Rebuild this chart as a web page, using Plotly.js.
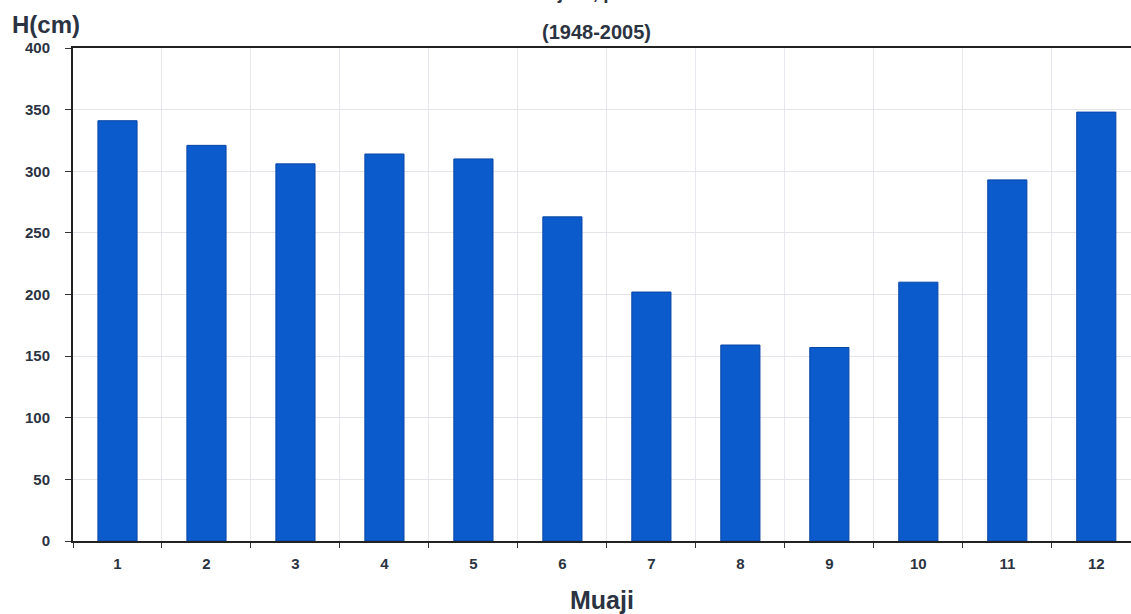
<!DOCTYPE html>
<html>
<head>
<meta charset="utf-8">
<script src="https://cdn.plot.ly/plotly-3.0.1.min.js"></script>
<style>
html,body{margin:0;padding:0;background:#fff;}
#chart{width:1131px;height:614px;}
</style>
</head>
<body>
<div id="chart"></div>
<script>
var months = ["1","2","3","4","5","6","7","8","9","10","11","12"];
var levels = [341, 321, 306, 314, 310, 263, 202, 159, 157, 210, 293, 348];
var yTicks = [0, 50, 100, 150, 200, 250, 300, 350, 400];

var fontFam = "Liberation Sans, Arial, sans-serif";
var textCol = "#2b3342";

var trace = {
  type: "bar",
  x: months,
  y: levels,
  width: 0.44,
  marker: {color: "#0b5bcc", line: {color: "#0846a6", width: 1}},
  hoverinfo: "x+y"
};

var layout = {
  width: 1131,
  height: 614,
  margin: {l: 73, r: 0, t: 48, b: 73},
  paper_bgcolor: "#ffffff",
  plot_bgcolor: "#ffffff",
  showlegend: false,
  xaxis: {
    type: "category",
    range: [-0.5, 11.39],
    tickson: "boundaries",
    ticks: "outside",
    ticklen: 5,
    tickcolor: "#333",
    showgrid: true,
    gridcolor: "#e6e8ee",
    gridwidth: 1,
    showline: true,
    linecolor: "#222",
    linewidth: 2,
    mirror: true,
    tickfont: {family: fontFam, size: 15, color: textCol, weight: "bold"},
    ticklabelstandoff: 8,
    zeroline: false,
    fixedrange: true
  },
  yaxis: {
    range: [0, 400],
    tickvals: yTicks,
    ticks: "outside",
    ticklen: 6,
    tickcolor: "#333",
    showgrid: true,
    gridcolor: "#e3e5ea",
    gridwidth: 1,
    showline: true,
    linecolor: "#222",
    linewidth: 2,
    zeroline: false,
    tickfont: {family: fontFam, size: 15, color: textCol, weight: "bold"},
    ticklabelstandoff: 12,
    fixedrange: true
  },
  annotations: [
    {text: "Nivelet mesatare mujore, për stacionin hidrometrik", xref: "paper", yref: "paper",
     x: 0.5, y: 1.112, xanchor: "center", yanchor: "middle", showarrow: false,
     font: {family: fontFam, size: 19, color: textCol, weight: "bold"}},
    {text: "(1948-2005)", xref: "paper", yref: "paper",
     x: 0.495, y: 1.033, xanchor: "center", yanchor: "middle", showarrow: false,
     font: {family: fontFam, size: 20, color: textCol, weight: "bold"}},
    {text: "H(cm)", xref: "paper", yref: "paper",
     x: -0.06, y: 1.048, xanchor: "left", yanchor: "middle", showarrow: false,
     font: {family: fontFam, size: 24, color: textCol, weight: "bold"}},
    {text: "Muaji", xref: "paper", yref: "paper",
     x: 0.5, y: -0.12, xanchor: "center", yanchor: "middle", showarrow: false,
     font: {family: fontFam, size: 25, color: textCol, weight: "bold"}}
  ]
};

Plotly.newPlot("chart", [trace], layout, {displayModeBar: false, staticPlot: true});
</script>
</body>
</html>
